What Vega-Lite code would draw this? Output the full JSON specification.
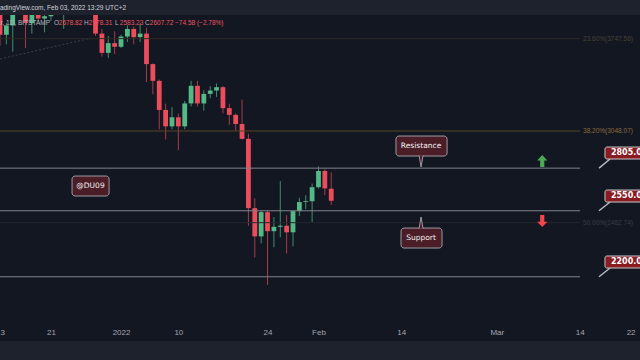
{
  "$schema": "https://vega.github.io/schema/vega-lite/v6.json",
  "width": 640,
  "height": 326,
  "autosize": {"type": "none"},
  "padding": {"left": 0, "top": 15, "right": 0, "bottom": 19},
  "background": "#1e222d",
  "title": {"text": "TradingView.com, Feb 03, 2022 13:29 UTC+2", "anchor": "start", "frame": "group", "fontSize": 6.5, "font": "Liberation Sans", "fontWeight": "normal", "color": "#d1d4dc", "dx": -6, "offset": 4},
  "config": {"view": {"fill": "#131722", "stroke": null}, "font": "Liberation Sans"},
  "datasets": {
    "candles": [
      {"date": "2021-12-13", "open": 4130, "high": 4140, "low": 3690, "close": 3780},
      {"date": "2021-12-14", "open": 3780, "high": 3880, "low": 3700, "close": 3860},
      {"date": "2021-12-15", "open": 3860, "high": 4100, "low": 3640, "close": 4020},
      {"date": "2021-12-16", "open": 4020, "high": 4110, "low": 3950, "close": 3960},
      {"date": "2021-12-17", "open": 3960, "high": 3990, "low": 3670, "close": 3880},
      {"date": "2021-12-18", "open": 3880, "high": 3990, "low": 3790, "close": 3960},
      {"date": "2021-12-19", "open": 3960, "high": 4040, "low": 3900, "close": 3920},
      {"date": "2021-12-20", "open": 3920, "high": 3960, "low": 3800, "close": 3940},
      {"date": "2021-12-21", "open": 3940, "high": 4060, "low": 3900, "close": 4020},
      {"date": "2021-12-22", "open": 4020, "high": 4050, "low": 3950, "close": 3980},
      {"date": "2021-12-23", "open": 3980, "high": 4140, "low": 3830, "close": 4110},
      {"date": "2021-12-24", "open": 4110, "high": 4140, "low": 4020, "close": 4045},
      {"date": "2021-12-25", "open": 4045, "high": 4130, "low": 4020, "close": 4095},
      {"date": "2021-12-26", "open": 4095, "high": 4120, "low": 3990, "close": 4065},
      {"date": "2021-12-27", "open": 4065, "high": 4130, "low": 4030, "close": 4035},
      {"date": "2021-12-28", "open": 4035, "high": 4040, "low": 3770, "close": 3790},
      {"date": "2021-12-29", "open": 3790, "high": 3830, "low": 3600, "close": 3630},
      {"date": "2021-12-30", "open": 3630, "high": 3770, "low": 3590, "close": 3710},
      {"date": "2021-12-31", "open": 3710, "high": 3810, "low": 3620, "close": 3680},
      {"date": "2022-01-01", "open": 3680, "high": 3780, "low": 3670, "close": 3765},
      {"date": "2022-01-02", "open": 3765, "high": 3860, "low": 3720, "close": 3830},
      {"date": "2022-01-03", "open": 3830, "high": 3850, "low": 3700, "close": 3760},
      {"date": "2022-01-04", "open": 3760, "high": 3880, "low": 3720, "close": 3790},
      {"date": "2022-01-05", "open": 3790, "high": 3840, "low": 3400, "close": 3540},
      {"date": "2022-01-06", "open": 3540, "high": 3545, "low": 3310, "close": 3410},
      {"date": "2022-01-07", "open": 3410, "high": 3420, "low": 3060, "close": 3195},
      {"date": "2022-01-08", "open": 3195, "high": 3240, "low": 2990, "close": 3080},
      {"date": "2022-01-09", "open": 3080, "high": 3215, "low": 3060, "close": 3143},
      {"date": "2022-01-10", "open": 3143, "high": 3170, "low": 2920, "close": 3080},
      {"date": "2022-01-11", "open": 3080, "high": 3260, "low": 3060, "close": 3242},
      {"date": "2022-01-12", "open": 3242, "high": 3410, "low": 3220, "close": 3372},
      {"date": "2022-01-13", "open": 3372, "high": 3410, "low": 3220, "close": 3242},
      {"date": "2022-01-14", "open": 3242, "high": 3340, "low": 3190, "close": 3312},
      {"date": "2022-01-15", "open": 3312, "high": 3370, "low": 3280, "close": 3337},
      {"date": "2022-01-16", "open": 3337, "high": 3390, "low": 3290, "close": 3362},
      {"date": "2022-01-17", "open": 3362, "high": 3370, "low": 3170, "close": 3208},
      {"date": "2022-01-18", "open": 3208, "high": 3240, "low": 3090, "close": 3160},
      {"date": "2022-01-19", "open": 3160, "high": 3170, "low": 3050, "close": 3096},
      {"date": "2022-01-20", "open": 3096, "high": 3270, "low": 2990, "close": 2995},
      {"date": "2022-01-21", "open": 2995, "high": 3030, "low": 2465, "close": 2565},
      {"date": "2022-01-22", "open": 2565, "high": 2622, "low": 2297, "close": 2408},
      {"date": "2022-01-23", "open": 2408, "high": 2550, "low": 2371, "close": 2542},
      {"date": "2022-01-24", "open": 2542, "high": 2550, "low": 2160, "close": 2436},
      {"date": "2022-01-25", "open": 2436, "high": 2514, "low": 2350, "close": 2460},
      {"date": "2022-01-26", "open": 2460, "high": 2725, "low": 2403, "close": 2466},
      {"date": "2022-01-27", "open": 2466, "high": 2525, "low": 2318, "close": 2430},
      {"date": "2022-01-28", "open": 2430, "high": 2550, "low": 2355, "close": 2548},
      {"date": "2022-01-29", "open": 2548, "high": 2625, "low": 2520, "close": 2600},
      {"date": "2022-01-30", "open": 2600, "high": 2640, "low": 2560, "close": 2605},
      {"date": "2022-01-31", "open": 2605, "high": 2710, "low": 2485, "close": 2688},
      {"date": "2022-02-01", "open": 2688, "high": 2815, "low": 2680, "close": 2787},
      {"date": "2022-02-02", "open": 2787, "high": 2800, "low": 2640, "close": 2681},
      {"date": "2022-02-03", "open": 2678.82, "high": 2778.31, "low": 2583.23, "close": 2607.72}
    ],
    "fib": [
      {"date": "2022-03-14T01:30:00Z", "date2": "2021-12-01", "price": 3747.56, "level": "23.6", "label": "23.60%(3747.56)"},
      {"date": "2022-03-14T01:30:00Z", "date2": "2021-12-01", "price": 3048.07, "level": "38.2", "label": "38.20%(3048.07)"},
      {"date": "2022-03-14T01:30:00Z", "date2": "2021-12-01", "price": 2482.74, "level": "50", "label": "50.00%(2482.74)"}
    ],
    "levels": [
      {"date": "2022-03-14T01:30:00Z", "date2": "2021-12-01", "price": 2805},
      {"date": "2022-03-14T01:30:00Z", "date2": "2021-12-01", "price": 2550},
      {"date": "2022-03-14T01:30:00Z", "date2": "2021-12-01", "price": 2200}
    ],
    "trend": [
      {"date": "2021-12-13", "price": 3581},
      {"date": "2021-12-27", "price": 3748}
    ],
    "headName": [
      {"date": "2021-12-20T20:30:00Z", "price": 3881, "text": "Ethereum / U.S. Dollar, 1D, BITSTAMP"}
    ],
    "headVals": [
      {"date": "2021-12-21T11:30:00Z", "price": 3881, "key": "O", "val": "2678.82"},
      {"date": "2021-12-26T04:30:00Z", "price": 3881, "key": "H", "val": "2778.31"},
      {"date": "2021-12-31T01:30:00Z", "price": 3881, "key": "L", "val": "2583.23"},
      {"date": "2022-01-04T18:30:00Z", "price": 3881, "key": "C", "val": "2607.72"},
      {"date": "2022-01-08T17:30:00Z", "price": 3881, "key": "", "val": "−74.58 (−2.78%)"}
    ],
    "noteBoxes": [
      {"date": "2022-02-13T04:00:00Z", "date2": "2022-02-21T04:30:00Z", "price": 3013.9, "price2": 2882},
      {"date": "2022-02-13T23:00:00Z", "date2": "2022-02-20T09:30:00Z", "price": 2453.3, "price2": 2346},
      {"date": "2021-12-24T07:30:00Z", "date2": "2021-12-30T03:00:00Z", "price": 2756, "price2": 2635.5}
    ],
    "noteTexts": [
      {"date": "2022-02-17T02:30:00Z", "price": 2947, "text": "Resistance"},
      {"date": "2022-02-17T02:30:00Z", "price": 2399, "text": "Support"},
      {"date": "2021-12-27T05:00:00Z", "price": 2695, "text": "@DU09"}
    ],
    "noteTails": [
      {"date": "2022-02-17T02:30:00Z", "price": 2846.9, "dir": "down"},
      {"date": "2022-02-17T02:30:00Z", "price": 2483.8, "dir": "up"}
    ],
    "arrows": [
      {"date": "2022-03-08T03:00:00Z", "price": 2850, "dir": "up"},
      {"date": "2022-03-08T03:00:00Z", "price": 2492, "dir": "down"}
    ],
    "callTails": [
      {"date": "2022-03-17T01:00:00Z", "price": 2805, "date2": "2022-03-18T18:30:00Z", "price2": 2862.9},
      {"date": "2022-03-17T01:00:00Z", "price": 2550, "date2": "2022-03-18T18:30:00Z", "price2": 2600.3},
      {"date": "2022-03-17T01:00:00Z", "price": 2200, "date2": "2022-03-18T18:30:00Z", "price2": 2243.5}
    ],
    "callouts": [
      {"date": "2022-03-17T23:30:00Z", "date2": "2022-03-26T00:00:00Z", "price": 2940.7, "price2": 2862.9, "mid": 2901.5, "label": "2805.00"},
      {"date": "2022-03-17T23:30:00Z", "date2": "2022-03-26T00:00:00Z", "price": 2671, "price2": 2600.3, "mid": 2635.5, "label": "2550.00"},
      {"date": "2022-03-17T23:30:00Z", "date2": "2022-03-26T00:00:00Z", "price": 2304.6, "price2": 2243.5, "mid": 2273.6, "label": "2200.00"}
    ]
  },
  "encoding": {
    "x": {
      "field": "date",
      "type": "temporal",
      "scale": {"type": "utc", "domain": ["2021-12-13T00:00:00Z", "2022-03-23T11:25:00Z"], "padding": 0},
      "axis": {
        "title": null,
        "values": [
          {"year": 2021, "month": 12, "date": 13, "utc": true},
          {"year": 2021, "month": 12, "date": 21, "utc": true},
          {"year": 2022, "month": 1, "date": 1, "utc": true},
          {"year": 2022, "month": 1, "date": 10, "utc": true},
          {"year": 2022, "month": 1, "date": 24, "utc": true},
          {"year": 2022, "month": 2, "date": 1, "utc": true},
          {"year": 2022, "month": 2, "date": 14, "utc": true},
          {"year": 2022, "month": 3, "date": 1, "utc": true},
          {"year": 2022, "month": 3, "date": 14, "utc": true},
          {"year": 2022, "month": 3, "date": 22, "utc": true}
        ],
        "labelExpr": "utcdate(datum.value) == 1 ? (utcmonth(datum.value) == 0 ? '2022' : utcFormat(datum.value, '%b')) : '' + utcdate(datum.value)",
        "domain": false,
        "ticks": false,
        "grid": false,
        "labelColor": "#a3a6af",
        "labelFontSize": 8,
        "labelFont": "Liberation Sans",
        "labelAlign": "center",
        "offset": -17,
        "labelPadding": 4,
        "labelOverlap": false,
        "labelBound": false,
        "labelFlush": false
      }
    }
  },
  "layer": [
    {
      "data": {"name": "candles"},
      "mark": {"type": "rule", "strokeWidth": 1, "clip": true},
      "encoding": {
        "y": {"field": "low", "type": "quantitative", "scale": {"type": "log", "domain": [1905.5, 3951], "nice": false}, "axis": null},
        "y2": {"field": "high"},
        "color": {"condition": {"test": "datum.close >= datum.open", "value": "#3f8d6a"}, "value": "#a83a48"}
      }
    },
    {
      "data": {"name": "candles"},
      "mark": {"type": "bar", "size": 4.8, "clip": true},
      "encoding": {
        "y": {"field": "open", "type": "quantitative", "scale": {"type": "log", "domain": [1905.5, 3951], "nice": false}, "axis": null},
        "y2": {"field": "close"},
        "color": {"condition": {"test": "datum.close >= datum.open", "value": "#53b987"}, "value": "#eb4d5c"}
      }
    },
    {
      "data": {"name": "trend"},
      "mark": {"type": "line", "strokeDash": [2, 2], "strokeWidth": 1, "color": "#3a3f4b", "clip": true},
      "encoding": {
        "y": {"field": "price", "type": "quantitative", "scale": {"type": "log", "domain": [1905.5, 3951], "nice": false}, "axis": null}
      }
    },
    {
      "data": {"name": "fib"},
      "mark": {"type": "rule", "strokeWidth": 1, "clip": true},
      "encoding": {
        "x2": {"field": "date2"},
        "y": {"field": "price", "type": "quantitative", "scale": {"type": "log", "domain": [1905.5, 3951], "nice": false}, "axis": null},
        "color": {"condition": [{"test": "datum.level == '23.6'", "value": "#2e2b22"}, {"test": "datum.level == '38.2'", "value": "#574725"}], "value": "#25272e"}
      }
    },
    {
      "data": {"name": "fib"},
      "mark": {"type": "text", "align": "left", "baseline": "middle", "dx": 3, "fontSize": 6.5, "font": "Liberation Sans"},
      "encoding": {
        "y": {"field": "price", "type": "quantitative", "scale": {"type": "log", "domain": [1905.5, 3951], "nice": false}, "axis": null},
        "text": {"field": "label"},
        "color": {"condition": [{"test": "datum.level == '23.6'", "value": "#4a4232"}, {"test": "datum.level == '38.2'", "value": "#8a6c3a"}], "value": "#3a3c44"}
      }
    },
    {
      "data": {"name": "levels"},
      "mark": {"type": "rule", "strokeWidth": 1, "color": "#80838c", "clip": true},
      "encoding": {
        "x2": {"field": "date2"},
        "y": {"field": "price", "type": "quantitative", "scale": {"type": "log", "domain": [1905.5, 3951], "nice": false}, "axis": null}
      }
    },
    {
      "data": {"name": "headName"},
      "mark": {"type": "text", "align": "right", "baseline": "middle", "fontSize": 6.5, "font": "Liberation Sans", "color": "#b2b5be"},
      "encoding": {
        "y": {"field": "price", "type": "quantitative", "scale": {"type": "log", "domain": [1905.5, 3951], "nice": false}, "axis": null},
        "text": {"field": "text"}
      }
    },
    {
      "data": {"name": "headVals"},
      "mark": {"type": "text", "align": "left", "baseline": "middle", "fontSize": 6.5, "font": "Liberation Sans", "color": "#b2b5be"},
      "encoding": {
        "y": {"field": "price", "type": "quantitative", "scale": {"type": "log", "domain": [1905.5, 3951], "nice": false}, "axis": null},
        "text": {"field": "key"}
      }
    },
    {
      "data": {"name": "headVals"},
      "mark": {"type": "text", "align": "left", "baseline": "middle", "dx": 4.8, "fontSize": 6.5, "font": "Liberation Sans", "color": "#ef5361"},
      "encoding": {
        "y": {"field": "price", "type": "quantitative", "scale": {"type": "log", "domain": [1905.5, 3951], "nice": false}, "axis": null},
        "text": {"field": "val"}
      }
    },
    {
      "data": {"name": "noteBoxes"},
      "mark": {"type": "rect", "fill": "#4b1d26", "stroke": "#9c9aa3", "strokeWidth": 1, "cornerRadius": 3},
      "encoding": {
        "x2": {"field": "date2"},
        "y": {"field": "price", "type": "quantitative", "scale": {"type": "log", "domain": [1905.5, 3951], "nice": false}, "axis": null},
        "y2": {"field": "price2"}
      }
    },
    {
      "data": {"name": "noteTails"},
      "mark": {"type": "point", "filled": true, "fill": "#4b1d26", "stroke": "#9c9aa3", "strokeWidth": 1, "opacity": 1, "size": 121},
      "encoding": {
        "y": {"field": "price", "type": "quantitative", "scale": {"type": "log", "domain": [1905.5, 3951], "nice": false}, "axis": null},
        "shape": {"condition": {"test": "datum.dir == 'down'", "value": "M-0.36,-1.1L0,1L0.36,-1.1"}, "value": "M-0.36,1.1L0,-1L0.36,1.1"}
      }
    },
    {
      "data": {"name": "noteTexts"},
      "mark": {"type": "text", "align": "center", "baseline": "middle", "fontSize": 7.5, "font": "DejaVu Sans", "color": "#f2f2f2"},
      "encoding": {
        "y": {"field": "price", "type": "quantitative", "scale": {"type": "log", "domain": [1905.5, 3951], "nice": false}, "axis": null},
        "text": {"field": "text"}
      }
    },
    {
      "data": {"name": "arrows"},
      "mark": {"type": "point", "filled": true, "opacity": 1, "size": 144, "strokeWidth": 0},
      "encoding": {
        "y": {"field": "price", "type": "quantitative", "scale": {"type": "log", "domain": [1905.5, 3951], "nice": false}, "axis": null},
        "shape": {"condition": {"test": "datum.dir == 'up'", "value": "M0,-1L0.85,-0.1L0.35,-0.1L0.35,1L-0.35,1L-0.35,-0.1L-0.85,-0.1Z"}, "value": "M0,1L0.85,0.1L0.35,0.1L0.35,-1L-0.35,-1L-0.35,0.1L-0.85,0.1Z"},
        "color": {"condition": {"test": "datum.dir == 'up'", "value": "#4caa55"}, "value": "#f0454c"}
      }
    },
    {
      "data": {"name": "callTails"},
      "mark": {"type": "rule", "strokeWidth": 1.5, "color": "#b8b9c0"},
      "encoding": {
        "x2": {"field": "date2"},
        "y": {"field": "price", "type": "quantitative", "scale": {"type": "log", "domain": [1905.5, 3951], "nice": false}, "axis": null},
        "y2": {"field": "price2"}
      }
    },
    {
      "data": {"name": "callouts"},
      "mark": {"type": "rect", "fill": "#8a1b21", "stroke": "#c8c8cc", "strokeWidth": 1, "cornerRadius": 2},
      "encoding": {
        "x2": {"field": "date2"},
        "y": {"field": "price", "type": "quantitative", "scale": {"type": "log", "domain": [1905.5, 3951], "nice": false}, "axis": null},
        "y2": {"field": "price2"}
      }
    },
    {
      "data": {"name": "callouts"},
      "mark": {"type": "text", "align": "left", "baseline": "middle", "dx": 6, "fontSize": 8, "fontWeight": "bold", "font": "DejaVu Sans", "color": "#ffffff"},
      "encoding": {
        "y": {"field": "mid", "type": "quantitative", "scale": {"type": "log", "domain": [1905.5, 3951], "nice": false}, "axis": null},
        "text": {"field": "label"}
      }
    }
  ]
}
